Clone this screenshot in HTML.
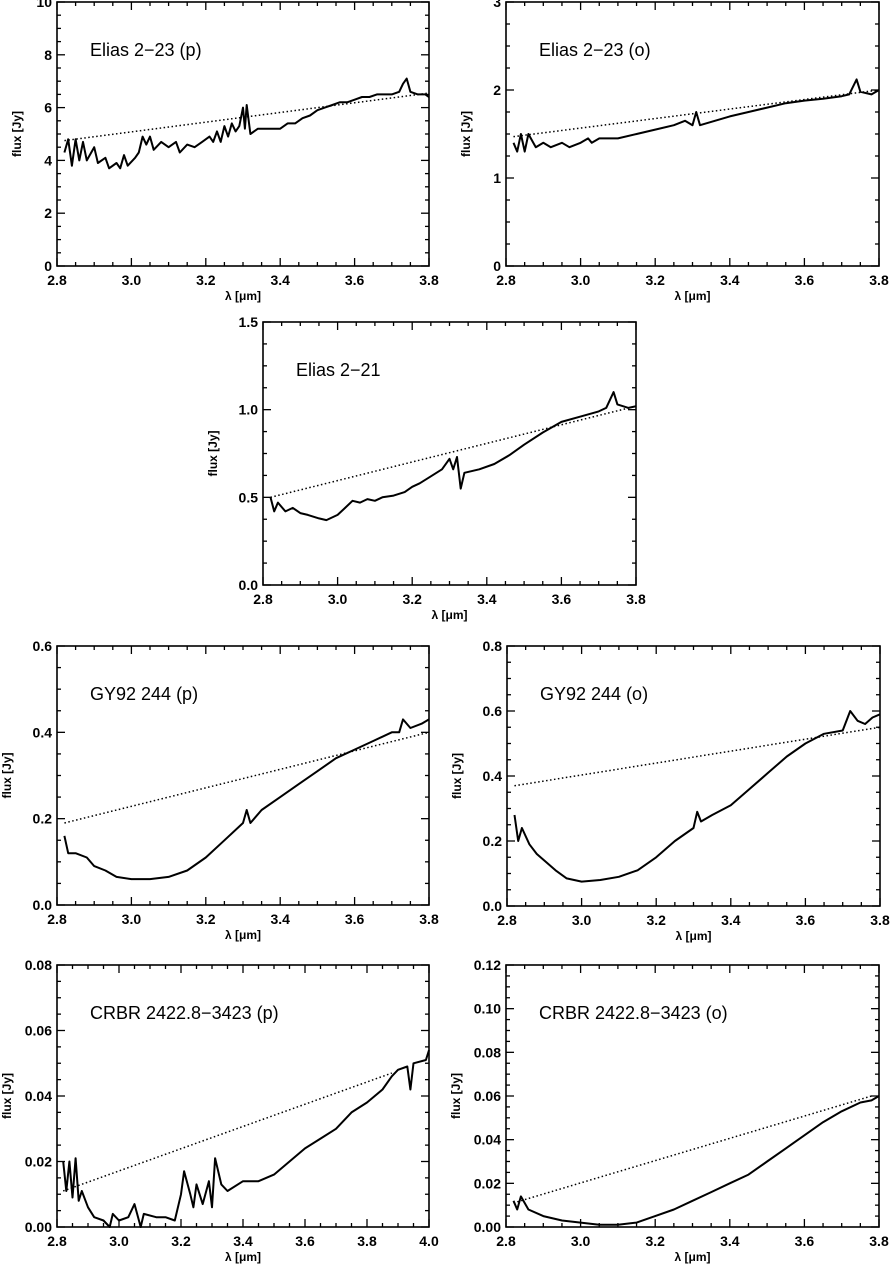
<!DOCTYPE html>
<html><head><meta charset="utf-8"><style>
body{margin:0;background:#fff;width:890px;height:1268px;overflow:hidden}
svg{display:block}
.tl{font-family:"Liberation Sans",sans-serif;font-weight:bold;font-size:14px}
.tt{font-family:"Liberation Sans",sans-serif;font-size:18px}
.ax{font-family:"Liberation Sans",sans-serif;font-weight:bold;font-size:12px}
</style></head><body>
<svg id="fig" width="890" height="1268"></svg>
<script>
// ---- data ----
const p1Wl=[2.82,2.83,2.84,2.85,2.86,2.87,2.88,2.90,2.91,2.93,2.94,2.96,2.97,2.98,2.99,3.01,3.02,3.03,3.04,3.05,3.06,3.08,3.10,3.12,3.13,3.15,3.17,3.19,3.21,3.22,3.23,3.24,3.25,3.26,3.27,3.28,3.29,3.30,3.305,3.31,3.32,3.34,3.36,3.38,3.40,3.42,3.44,3.46,3.48,3.50,3.52,3.54,3.56,3.58,3.60,3.62,3.64,3.66,3.68,3.70,3.72,3.73,3.74,3.75,3.77,3.79,3.80];
const p1Flux=[4.3,4.8,3.8,4.8,4.0,4.7,4.0,4.5,3.9,4.1,3.7,3.9,3.7,4.2,3.8,4.1,4.3,4.9,4.6,4.9,4.4,4.7,4.5,4.7,4.3,4.6,4.5,4.7,4.9,4.7,5.1,4.7,5.3,4.9,5.4,5.1,5.3,6.0,5.2,6.1,5.0,5.2,5.2,5.2,5.2,5.4,5.4,5.6,5.7,5.9,6.0,6.1,6.2,6.2,6.3,6.4,6.4,6.5,6.5,6.5,6.6,6.9,7.1,6.6,6.5,6.5,6.4];
const p2Wl=[2.82,2.83,2.84,2.85,2.86,2.88,2.90,2.92,2.95,2.97,3.00,3.02,3.03,3.05,3.10,3.15,3.20,3.25,3.28,3.30,3.31,3.32,3.36,3.40,3.45,3.50,3.55,3.60,3.65,3.70,3.72,3.74,3.75,3.78,3.80];
const p2Flux=[1.4,1.3,1.5,1.3,1.5,1.35,1.4,1.35,1.4,1.35,1.4,1.45,1.4,1.45,1.45,1.5,1.55,1.6,1.65,1.6,1.75,1.6,1.65,1.7,1.75,1.8,1.85,1.88,1.9,1.93,1.95,2.12,1.98,1.95,2.0];
const p3Wl=[2.82,2.83,2.84,2.86,2.88,2.90,2.92,2.95,2.97,3.00,3.02,3.04,3.06,3.08,3.10,3.12,3.15,3.18,3.20,3.22,3.25,3.28,3.30,3.31,3.32,3.33,3.34,3.38,3.42,3.46,3.50,3.55,3.60,3.65,3.70,3.72,3.74,3.75,3.78,3.80];
const p3Flux=[0.5,0.42,0.47,0.42,0.44,0.41,0.40,0.38,0.37,0.40,0.44,0.48,0.47,0.49,0.48,0.50,0.51,0.53,0.56,0.58,0.62,0.66,0.72,0.66,0.73,0.55,0.64,0.66,0.69,0.74,0.80,0.87,0.93,0.96,0.99,1.01,1.10,1.03,1.01,1.02];
const p4Wl=[2.82,2.83,2.85,2.88,2.90,2.93,2.96,3.00,3.05,3.10,3.15,3.20,3.25,3.30,3.31,3.32,3.35,3.40,3.45,3.50,3.55,3.60,3.65,3.70,3.72,3.73,3.75,3.78,3.80];
const p4Flux=[0.16,0.12,0.12,0.11,0.09,0.08,0.065,0.06,0.06,0.065,0.08,0.11,0.15,0.19,0.22,0.19,0.22,0.25,0.28,0.31,0.34,0.36,0.38,0.40,0.40,0.43,0.41,0.42,0.43];
const p5Wl=[2.82,2.83,2.84,2.86,2.88,2.90,2.93,2.96,3.00,3.05,3.10,3.15,3.20,3.25,3.30,3.31,3.32,3.35,3.40,3.45,3.50,3.55,3.60,3.65,3.70,3.72,3.74,3.76,3.78,3.80];
const p5Flux=[0.28,0.2,0.24,0.19,0.16,0.14,0.11,0.085,0.075,0.08,0.09,0.11,0.15,0.2,0.24,0.29,0.26,0.28,0.31,0.36,0.41,0.46,0.50,0.53,0.54,0.60,0.57,0.56,0.58,0.59];
const p6Wl=[2.82,2.83,2.84,2.85,2.86,2.87,2.88,2.90,2.92,2.95,2.97,2.98,3.00,3.03,3.05,3.07,3.08,3.12,3.15,3.18,3.20,3.21,3.23,3.24,3.25,3.27,3.29,3.30,3.31,3.33,3.35,3.40,3.45,3.50,3.55,3.60,3.65,3.70,3.75,3.80,3.85,3.88,3.90,3.93,3.94,3.95,3.99,4.00];
const p6Flux=[0.02,0.011,0.02,0.009,0.021,0.008,0.011,0.006,0.003,0.002,0.0,0.004,0.002,0.003,0.007,0.0,0.004,0.003,0.003,0.002,0.01,0.017,0.01,0.006,0.013,0.007,0.014,0.006,0.021,0.013,0.011,0.014,0.014,0.016,0.02,0.024,0.027,0.03,0.035,0.038,0.042,0.046,0.048,0.049,0.042,0.05,0.051,0.054];
const p7Wl=[2.82,2.83,2.84,2.86,2.90,2.95,3.00,3.05,3.10,3.15,3.20,3.25,3.30,3.35,3.40,3.45,3.50,3.55,3.60,3.65,3.70,3.75,3.78,3.80];
const p7Flux=[0.012,0.008,0.014,0.008,0.005,0.003,0.002,0.001,0.001,0.002,0.005,0.008,0.012,0.016,0.02,0.024,0.03,0.036,0.042,0.048,0.053,0.057,0.058,0.06];
const contX=[[2.82,3.80],[2.82,3.80],[2.82,3.80],[2.82,3.80],[2.82,3.80],[2.82,3.88],[2.82,3.78]];
const contY=[[4.75,6.55],[1.47,2.0],[0.50,1.02],[0.19,0.40],[0.37,0.55],[0.011,0.047],[0.011,0.06]];
const titles=["Elias 2\u221223 (p)","Elias 2\u221223 (o)","Elias 2\u221221","GY92 244 (p)","GY92 244 (o)","CRBR 2422.8\u22123423 (p)","CRBR 2422.8\u22123423 (o)"];
const yMax=[10,3,1.5,0.6,0.8,0.08,0.12];
const yStep=[2,1,0.5,0.2,0.2,0.02,0.02];
const yDec=[0,0,1,1,1,2,2];
const xMax=[3.8,3.8,3.8,3.8,3.8,4.0,3.8];
const wls=[p1Wl,p2Wl,p3Wl,p4Wl,p5Wl,p6Wl,p7Wl];
const fluxes=[p1Flux,p2Flux,p3Flux,p4Flux,p5Flux,p6Flux,p7Flux];
// layout
const frames=[[57,2,429,266],[506,2,879,266],[263,322,636,585],[57,646,429,905],[507,646,880,906],[57,965,429,1227],[506,965,879,1227]];

const NS="http://www.w3.org/2000/svg";
const svg=document.getElementById('fig');
function mk(tag,attrs,parent){const e=document.createElementNS(NS,tag);for(const k in attrs)e.setAttribute(k,attrs[k]);(parent||svg).appendChild(e);return e;}
frames.forEach((f,i)=>{
  const [L,T,R,B]=f;
  const g=mk('g',{});
  
  
  const xs=v=>L+(v-2.8)/(xMax[i]-2.8)*(R-L);
  const ys=v=>B-v/yMax[i]*(B-T);
  const fr=mk('rect',{x:L,y:T,width:R-L,height:B-T,fill:'none',stroke:'#000','stroke-width':1.6},g);
  
  
  const nx=Math.round((xMax[i]-2.8)/0.05);
  for(let k=0;k<=nx;k++){
    const v=2.8+k*0.05,x=xs(v),maj=k%4===0,len=maj?8:4;
    mk('line',{x1:x,y1:B,x2:x,y2:B-len,stroke:'#000','stroke-width':1.3},g);
    mk('line',{x1:x,y1:T,x2:x,y2:T+len,stroke:'#000','stroke-width':1.3},g);
    if(maj){const t=mk('text',{x:x,y:B+19,'text-anchor':'middle',class:'tl'},g);t.textContent=v.toFixed(1);
      
      }
  }
  const ny=Math.round(yMax[i]/(yStep[i]/4));
  for(let k=0;k<=ny;k++){
    const v=k*yStep[i]/4,y=ys(v),maj=k%4===0,len=maj?8:4;
    mk('line',{x1:L,y1:y,x2:L+len,y2:y,stroke:'#000','stroke-width':1.3},g);
    mk('line',{x1:R,y1:y,x2:R-len,y2:y,stroke:'#000','stroke-width':1.3},g);
    if(maj){const t=mk('text',{x:L-5,y:y+5,'text-anchor':'end',class:'tl'},g);t.textContent=v.toFixed(yDec[i]);
      
      }
  }
  const xt=mk('text',{x:(L+R)/2,y:B+34,'text-anchor':'middle',class:'ax'},g);xt.textContent='\u03bb [\u03bcm]';
  
  
  const yx=L-(yDec[i]===0?36:46), yc=(T+B)/2;
  const yt=mk('text',{x:yx,y:yc,'text-anchor':'middle',class:'ax',transform:`rotate(-90 ${yx} ${yc})`},g);yt.textContent='flux [Jy]';
  
  
  const tt=mk('text',{x:L+33,y:T+54,class:'tt'},g);tt.textContent=titles[i];
  
  
  const cl=mk('line',{x1:xs(contX[i][0]),y1:ys(contY[i][0]),x2:xs(contX[i][1]),y2:ys(contY[i][1]),stroke:'#000','stroke-width':1.5,'stroke-dasharray':'1.5 2.5'},g);
  
  
  const pts=wls[i].map((w,j)=>xs(w).toFixed(1)+','+ys(fluxes[i][j]).toFixed(1)).join(' ');
  const pl=mk('polyline',{points:pts,fill:'none',stroke:'#000','stroke-width':2,'stroke-linejoin':'round'},g);
  
  
});
</script>
</body></html>
